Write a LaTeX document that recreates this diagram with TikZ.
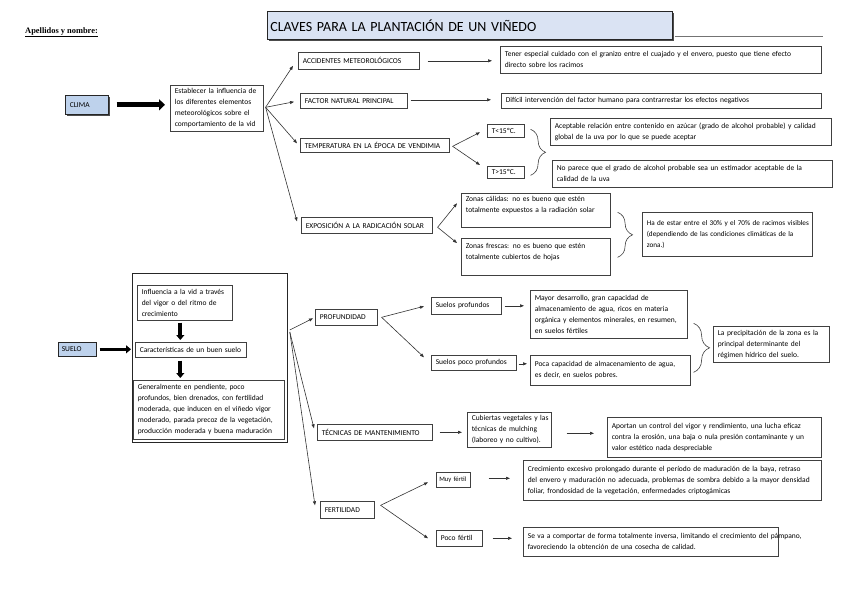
\documentclass[tikz,border=0pt]{standalone}
\usepackage{fontspec}
\setmainfont{Carlito}
\newfontfamily\apfont{Liberation Serif}
\usetikzlibrary{arrows.meta,shadows,decorations.pathreplacing,calc}
\definecolor{lblue}{RGB}{190,210,236}
\definecolor{tblue}{RGB}{218,227,243}
\newcommand\nb[1]{\mbox{#1}}
\begin{document}
\begin{tikzpicture}[x=1pt,y=-1pt,
  txt/.style={font=\fontsize{7.5}{11}\selectfont},
  box/.style={txt, draw=black!75, line width=0.6pt, fill=white, anchor=north west,
    inner xsep=4.5pt, inner ysep=1pt, align=left,
    drop shadow={shadow xshift=0.9pt,shadow yshift=-0.9pt,fill=black!45,opacity=1}},
  bluebox/.style={box, fill=lblue, draw=black!85},
  arr/.style={draw=black!80, line width=0.6pt, -{Triangle[length=4pt,width=3pt]}},
  fatarrow/.style={draw=black, line width=#1},
  brc/.style={draw=black!75, line width=0.6pt, decorate, decoration={brace, amplitude=#1}},
]
\fill[white] (0,0) rectangle (848,600);
\useasboundingbox (0,0) rectangle (848,600);

% header
\node[anchor=base west, inner sep=0pt, font=\apfont\bfseries\fontsize{8.4}{10}\selectfont] (ap) at (25,33) {\underline{Apellidos y nombre:}};
\node[box, fill=tblue, draw=black!85, line width=0.8pt, minimum width=405pt, minimum height=28pt,
  text width=399pt, inner xsep=3pt, font=\fontsize{14}{16}\selectfont,
  drop shadow={shadow xshift=1.5pt,shadow yshift=-1.5pt,fill=black!70,opacity=1}] (title) at (267,11)
  {\nb{CLAVES PARA LA PLANTACIÓN DE UN VIÑEDO}};
\draw[black!55, line width=0.7pt] ($(title.south east)+(2,-3)$) -- ++(148,0);

% CLIMA
\node[bluebox, minimum width=43pt, minimum height=19pt, text width=34pt,
  drop shadow={shadow xshift=1.3pt,shadow yshift=-1.3pt,fill=black!70,opacity=1}] (clima) at (65,95) {\nb{CLIMA}};
\node[box, minimum width=93pt, minimum height=46pt, text width=84pt] (est) at (170,85)
  {\nb{Establecer la influencia de}\\\nb{los diferentes elementos}\\\nb{meteorológicos sobre el}\\\nb{comportamiento de la vid}};
\draw[fatarrow=5pt, -{Triangle[length=6pt,width=11pt]}] ($(clima.east)+(8,0)$) -- ($(clima.east -| est.west)+(-5,0)$);

\node[box, minimum width=121pt, minimum height=17pt, text width=112pt] (acc) at (298,52) {\nb{ACCIDENTES METEOROLÓGICOS}};
\node[box, minimum width=321pt, minimum height=27pt, text width=312pt] (tener) at (500,46)
  {\nb{Tener especial cuidado con el granizo entre el cuajado y el envero, puesto que tiene efecto}\\\nb{directo sobre los racimos}};
\node[box, minimum width=107pt, minimum height=15pt, text width=98pt] (factor) at (300,93) {\nb{FACTOR NATURAL PRINCIPAL}};
\node[box, minimum width=320pt, minimum height=15pt, text width=311pt] (dificil) at (501,93)
  {\nb{Difícil intervención del factor humano para contrarrestar los efectos negativos}};
\node[box, minimum width=149pt, minimum height=14pt, text width=140pt] (temp) at (300,138) {\nb{TEMPERATURA EN LA ÉPOCA DE VENDIMIA}};
\node[box, minimum width=37pt, minimum height=13pt, text width=28pt] (tlow) at (487,124) {\nb{T<15ºC.}};
\node[box, minimum width=37pt, minimum height=12pt, text width=28pt] (thigh) at (487,166) {\nb{T>15ºC.}};
\node[box, minimum width=281pt, minimum height=27pt, text width=272pt] (acept) at (550,118)
  {\nb{Aceptable relación entre contenido en azúcar (grado de alcohol probable) y calidad}\\\nb{global de la uva por lo que se puede aceptar}};
\node[box, minimum width=280pt, minimum height=27pt, text width=271pt] (nopar) at (552,160)
  {\nb{No parece que el grado de alcohol probable sea un estimador aceptable de la}\\\nb{calidad de la uva}};
\node[box, minimum width=131pt, minimum height=16pt, text width=122pt] (expo) at (301,217) {\nb{EXPOSICIÓN A LA RADICACIÓN SOLAR}};
\node[box, minimum width=149pt, minimum height=34pt, text width=140pt] (calidas) at (461,193)
  {\nb{Zonas cálidas: no es bueno que estén}\\\nb{totalmente expuestos a la radiación solar}\\\mbox{}};
\node[box, minimum width=149pt, minimum height=37pt, text width=140pt] (frescas) at (461,238)
  {\nb{Zonas frescas: no es bueno que estén}\\\nb{totalmente cubiertos de hojas}\\\mbox{}};
\node[box, minimum width=170pt, minimum height=44pt, text width=161pt, font=\fontsize{7.2}{11}\selectfont] (haestar) at (642,212)
  {\nb{Ha de estar entre el 30\% y el 70\% de racimos visibles}\\\nb{(dependiendo de las condiciones climáticas de la}\\\nb{zona.)}};

\draw[arr] ($(est.east)+(2,-1)$) -- ($(acc.west)+(-5,5)$);
\draw[arr] ($(est.east)+(2,-1)$) -- ($(factor.west)+(-6,1)$);
\draw[arr] ($(est.east)+(2,-1)$) -- ($(temp.west)+(-3,-2)$);
\draw[arr] ($(est.east)+(2,-1)$) -- ($(expo.west)+(-4,-4)$);
\draw[arr] ($(acc.east)+(8,0)$) -- ($(acc.east -| tener.west)+(-8,0)$);
\draw[arr] ($(factor.east)+(3,-1)$) -- ($(factor.east -| dificil.west)+(-10,-1)$);
\draw[arr] ($(temp.east)+(3,1)$) -- ($(tlow.west)+(-7,1.5)$);
\draw[arr] ($(temp.east)+(3,1)$) -- ($(thigh.north west)+(-7,-1)$);
\draw[arr] ($(expo.east)+(5,2)$) -- ($(calidas.west)+(-4,-7)$);
\draw[arr] ($(expo.east)+(5,2)$) -- ($(frescas.north west)+(-4,5)$);
\draw[brc=15pt] ($(tlow.east)+(6,-1.5)$) -- ($(thigh.east)+(6,3)$);
\draw[brc=15pt] ($(calidas.east)+(7,2)$) -- ($(frescas.east)+(7,0.5)$);

% SUELO
\node[bluebox, minimum width=38pt, minimum height=14pt, inner xsep=3.5pt, text width=31pt] (suelo) at (58,342) {\nb{SUELO}};
\node[box, draw=black!85, line width=0.8pt, minimum width=155pt, minimum height=169pt] (big) at (132,273) {};
\draw[fatarrow=3.5pt, -{Triangle[length=5pt,width=8pt]}] ($(suelo.east)+(3,0)$) -- ($(suelo.east -| big.west)+(-1,0)$);
\node[box, minimum width=95pt, minimum height=35pt, text width=86pt] (influ) at (137,285)
  {\nb{Influencia a la vid a través}\\\nb{del vigor o del ritmo de}\\\nb{crecimiento}};
\node[box, minimum width=111pt, minimum height=15pt, text width=102pt] (caract) at (135,342) {\nb{Características de un buen suelo}};
\node[box, minimum width=151pt, minimum height=59pt, text width=142pt] (general) at (133,380)
  {\nb{Generalmente en pendiente, poco}\\\nb{profundos, bien drenados, con fertilidad}\\\nb{moderada, que inducen en el viñedo vigor}\\\nb{moderado, parada precoz de la vegetación,}\\\nb{producción moderada y buena maduración}};
\draw[fatarrow=4pt, -{Triangle[length=5pt,width=8pt]}] ($(influ.south)+(-4.5,2)$) -- ($(influ.south |- caract.north)+(-4.5,-2)$);
\draw[fatarrow=4pt, -{Triangle[length=5pt,width=8pt]}] ($(influ.south |- caract.south)+(-4.5,3)$) -- ($(influ.south |- general.north)+(-4.5,-2)$);

\node[box, minimum width=62pt, minimum height=16pt, text width=53pt] (prof) at (315,309) {\nb{PROFUNDIDAD}};
\node[box, minimum width=70pt, minimum height=17pt, text width=61pt] (sprof) at (431,297) {\nb{Suelos profundos}};
\node[box, minimum width=157pt, minimum height=48pt, text width=148pt] (mayor) at (530,290)
  {\nb{Mayor desarrollo, gran capacidad de}\\\nb{almacenamiento de agua, ricos en materia}\\\nb{orgánica y elementos minerales, en resumen,}\\\nb{en suelos fértiles}};
\node[box, minimum width=85pt, minimum height=15pt, text width=76pt] (spoco) at (431,355) {\nb{Suelos poco profundos}};
\node[box, minimum width=160pt, minimum height=30pt, text width=151pt] (poca) at (530,355)
  {\nb{Poca capacidad de almacenamiento de agua,}\\\nb{es decir, en suelos pobres.}};
\node[box, minimum width=116pt, minimum height=36pt, text width=107pt] (precip) at (713,326)
  {\nb{La precipitación de la zona es la}\\\nb{principal determinante del}\\\nb{régimen hídrico del suelo.}};

\node[box, minimum width=115pt, minimum height=16pt, text width=106pt] (tec) at (317,424) {\nb{TÉCNICAS DE MANTENIMIENTO}};
\node[box, minimum width=84pt, minimum height=35pt, text width=75pt] (cub) at (467,412)
  {\nb{Cubiertas vegetales y las}\\\nb{técnicas de mulching}\\\nb{(laboreo y no cultivo).}};
\node[box, minimum width=214pt, minimum height=40pt, text width=205pt] (aportan) at (607,417)
  {\nb{Aportan un control del vigor y rendimiento, una lucha eficaz}\\\nb{contra la erosión, una baja o nula presión contaminante y un}\\\nb{valor estético nada despreciable}};

\node[box, minimum width=54pt, minimum height=17pt, text width=45pt] (fert) at (320,501) {\nb{FERTILIDAD}};
\node[box, minimum width=34pt, minimum height=15pt, text width=28pt, inner xsep=3pt, font=\fontsize{6.6}{11}\selectfont] (muy) at (436,472) {\nb{Muy fértil}};
\node[box, minimum width=298pt, minimum height=40pt, text width=289pt] (crec) at (523,460)
  {\nb{Crecimiento excesivo prolongado durante el período de maduración de la baya, retraso}\\\nb{del envero y maduración no adecuada, problemas de sombra debido a la mayor densidad}\\\nb{foliar, frondosidad de la vegetación, enfermedades criptogámicas}};
\node[box, minimum width=46pt, minimum height=16pt, text width=37pt] (poco) at (436,530) {\nb{Poco fértil}};
\node[box, minimum width=255pt, minimum height=29pt, text width=246pt] (seva) at (523,527)
  {\nb{Se va a comportar de forma totalmente inversa, limitando el crecimiento del pámpano,}\\\nb{favoreciendo la obtención de una cosecha de calidad.}};

\draw[arr] ($(big.north east)+(2,57)$) -- ($(prof.west)+(-2,1)$);
\draw[arr] ($(big.north east)+(2,59)$) -- ($(tec.west)+(-3,-4)$);
\draw[arr] ($(big.north east)+(2,59)$) -- ($(fert.west)+(-5,-4.5)$);
\draw[arr] ($(prof.east)+(4,0)$) -- ($(sprof.west)+(-7,0.5)$);
\draw[arr] ($(prof.east)+(4,0)$) -- ($(spoco.west)+(-7,-5.5)$);
\draw[arr] ($(sprof.east)+(3,0)$) -- ($(sprof.east -| mayor.west)+(-6,0)$);
\draw[arr] ($(spoco.east)+(2,1)$) -- ($(spoco.east -| poca.west)+(-3,1)$);
\draw[brc=16pt] ($(mayor.east)+(6,9)$) -- ($(poca.east)+(3,2)$);
\draw[arr] ($(tec.east)+(7,0)$) -- ($(tec.east -| cub.west)+(-5,0)$);
\draw[arr] ($(cub.east)+(15,3.5)$) -- ($(cub.east -| aportan.west)+(-13,3.5)$);
\draw[arr] ($(fert.east)+(6,-4.5)$) -- ($(muy.west)+(-8,2.5)$);
\draw[arr] ($(fert.east)+(6,-4.5)$) -- ($(poco.west)+(-8,0)$);
\draw[arr] ($(muy.east)+(18,-1.5)$) -- ($(muy.east -| crec.west)+(-13,-1.5)$);
\draw[arr] ($(poco.east)+(10,0)$) -- ($(poco.east -| seva.west)+(-11,0)$);
\end{tikzpicture}
\end{document}
